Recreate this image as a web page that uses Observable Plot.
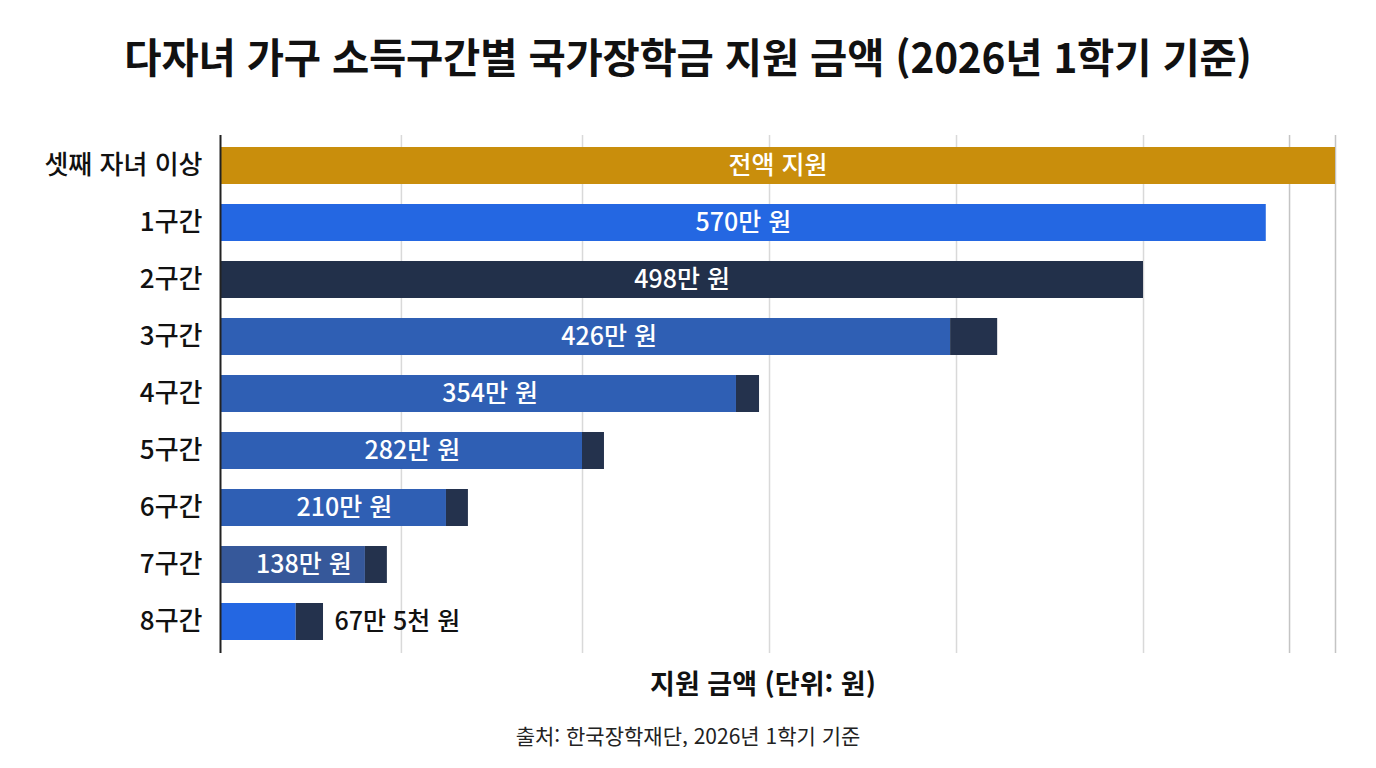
<!DOCTYPE html>
<html lang="ko">
<head>
<meta charset="utf-8">
<script src="https://cdn.jsdelivr.net/npm/d3@7"></script>
<script src="https://cdn.jsdelivr.net/npm/@observablehq/plot@0.6"></script>
<style>
  html, body { margin: 0; padding: 0; background: #ffffff; }
  body { width: 1376px; font-family: "Noto Sans CJK KR", "Noto Sans", sans-serif; color: #111; }
  #title { height: 110px; display: flex; align-items: center; justify-content: center;
           font-size: 40.5px; font-weight: 700; letter-spacing: -0.2px; padding-top: 0px; box-sizing: border-box; }
  #chart svg { display: block; }
  #xlabel { padding-left: 150px; text-align: center; font-size: 27px; font-weight: 700; line-height: 36px; }
  #caption { margin-top: 22px; text-align: center; font-size: 21px; font-weight: 400; line-height: 24px; color: #222; }
</style>
</head>
<body>
<div id="title">다자녀 가구 소득구간별 국가장학금 지원 금액 (2026년 1학기 기준)</div>
<div id="chart"></div>
<div id="xlabel">지원 금액 (단위: 원)</div>
<div id="caption">출처: 한국장학재단, 2026년 1학기 기준</div>
<script>
// Categories (top to bottom)
const categories = ["셋째 자녀 이상", "1구간", "2구간", "3구간", "4구간", "5구간", "6구간", "7구간", "8구간"];
// Printed amount labels
const amountLabels = ["전액 지원", "570만 원", "498만 원", "426만 원", "354만 원", "282만 원", "210만 원", "138만 원", "67만 5천 원"];
// Bar lengths as drawn in the reference (axis units, main segment)
const mainLength = [604, 566.5, 500, 395.5, 279.5, 196.1, 122.4, 78.5, 41];
// Dark end-cap segment lengths as drawn in the reference
const capLength = [0, 0, 0, 25.5, 12.5, 11.9, 11.9, 11.9, 14.8];
// Main segment colours
const mainColors = ["#C98E0C", "#2467E2", "#22304A", "#2F5FB4", "#2F5FB4", "#2F5FB4", "#2F5FB4", "#36589A", "#2467E2"];
const capColor = "#24324D";
// Vertical grid positions (axis units)
const gridTicks = [98, 196.1, 297.4, 398.7, 500];
const gridTicksOuter = [579.1, 604];
const xMax = 604;

const segs = [];
categories.forEach((c, i) => {
  segs.push({cat: c, x1: 0, x2: mainLength[i], fill: mainColors[i]});
  if (capLength[i] > 0) segs.push({cat: c, x1: mainLength[i], x2: mainLength[i] + capLength[i], fill: capColor});
});
const rows = categories.map((c, i) => ({cat: c, label: amountLabels[i], total: mainLength[i] + capLength[i], inside: i < categories.length - 1}));

const chart = Plot.plot({
  width: 1376,
  height: 555,
  marginTop: 25,
  marginBottom: 12,
  marginLeft: 220,
  marginRight: 41,
  style: {fontFamily: '"Noto Sans CJK KR", "Noto Sans", sans-serif', background: "#ffffff"},
  x: {domain: [0, xMax], axis: null},
  y: {domain: categories, paddingInner: 0.35, paddingOuter: 0.175, label: null},
  color: {type: "identity"},
  marks: [
    Plot.ruleX(gridTicks, {stroke: "#d9d9d9", strokeWidth: 1.5}),
    Plot.ruleX(gridTicksOuter, {stroke: "#c4c4c4", strokeWidth: 1.5}),
    Plot.barX(segs, {y: "cat", x1: "x1", x2: "x2", fill: "fill"}),
    Plot.text(rows.filter(d => d.inside), {y: "cat", x: d => d.total / 2, text: "label", fill: "#ffffff", fontSize: 25, fontWeight: 500}),
    Plot.text(rows.filter(d => !d.inside), {y: "cat", x: "total", text: "label", fill: "#111111", fontSize: 25, fontWeight: 500, textAnchor: "start", dx: 11}),
    Plot.ruleX([0], {stroke: "#222222", strokeWidth: 2}),
    Plot.axisY({tickSize: 0, tickPadding: 18, fontSize: 26, fontWeight: 500, fill: "#111111", label: null})
  ]
});
document.getElementById("chart").appendChild(chart);
</script>
</body>
</html>
